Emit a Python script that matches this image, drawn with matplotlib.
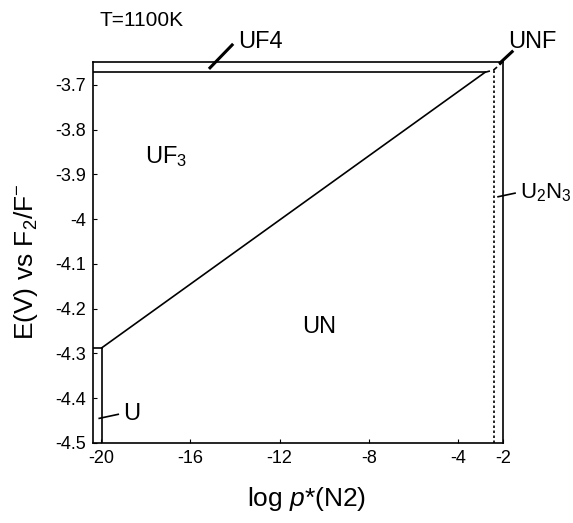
import matplotlib
matplotlib.use("Agg")
import matplotlib.pyplot as plt

plt.rcParams["font.family"] = ["Liberation Sans", "DejaVu Sans"]
plt.rcParams["mathtext.fontset"] = "custom"
plt.rcParams["mathtext.rm"] = "Liberation Sans"
plt.rcParams["mathtext.it"] = "Liberation Sans:italic"

# phase boundaries (log p*(N2), E in V)
X_MIN, X_MAX = -20.36, -2.0
Y_MIN, Y_MAX = -4.5, -3.649

u_un_x = -19.955          # U / UN boundary
u_uf3_y = -4.287          # U / UF3 boundary
uf3_uf4_y = -3.672        # UF3 / UF4 boundary
un_end = (-2.8, -3.672)   # end of UF3 / UN line
u2n3_x = -2.42            # UN / U2N3 boundary (dotted)
unf_pts_x = [-2.8, -2.42, -2.05]
unf_pts_y = [-3.672, -3.667, -3.651]

x_ticks = [-20, -16, -12, -8, -4, -2]
y_ticks = [-4.5, -4.4, -4.3, -4.2, -4.1, -4.0, -3.9, -3.8, -3.7]
y_tick_labels = ["-4.5", "-4.4", "-4.3", "-4.2", "-4.1", "-4", "-3.9", "-3.8", "-3.7"]

fig = plt.figure(figsize=(5.73, 5.23), dpi=100)
ax = fig.add_axes([0.1623, 0.1530, 0.7155, 0.7285])

lw = 1.2
ax.plot([X_MIN, u_un_x], [u_uf3_y, u_uf3_y], color="black", lw=lw)
ax.plot([u_un_x, u_un_x], [Y_MIN, u_uf3_y], color="black", lw=lw)
ax.plot([u_un_x, un_end[0]], [u_uf3_y, un_end[1]], color="black", lw=lw)
ax.plot([X_MIN, un_end[0]], [uf3_uf4_y, uf3_uf4_y], color="black", lw=lw)
ax.plot([u2n3_x, u2n3_x], [Y_MIN, unf_pts_y[1]], color="black", lw=lw,
        linestyle=(0, (1.5, 1.5)))
ax.plot(unf_pts_x, unf_pts_y, color="black", lw=lw, linestyle=(0, (3, 2)))

# labels with pointers
ax.plot([-15.12, -14.13], [-3.662, -3.611], color="black", lw=2.2, clip_on=False)
ax.text(-13.87, -3.604, "UF4", fontsize=17, va="center", ha="left")
ax.plot([-2.13, -1.59], [-3.651, -3.626], color="black", lw=2.2, clip_on=False)
ax.text(-1.77, -3.604, "UNF", fontsize=17, va="center", ha="left")
ax.plot([-2.22, -1.46], [-3.950, -3.942], color="black", lw=1.2, clip_on=False)
ax.text(-1.24, -3.941, r"U$_{2}$N$_{3}$", fontsize=16, va="center", ha="left")
ax.plot([-20.08, -19.23], [-4.445, -4.436], color="black", lw=1.2, clip_on=False)
ax.text(-19.01, -4.436, "U", fontsize=17, va="center", ha="left")
ax.text(-18.03, -3.861, r"UF$_{3}$", fontsize=17, va="center", ha="left")
ax.text(-10.24, -4.241, "UN", fontsize=17, va="center", ha="center")

fig.text(100 / 573, 1 - 20 / 523, "T=1100K", fontsize=15, va="center", ha="left")

ax.set_xlim(X_MIN, X_MAX)
ax.set_ylim(Y_MIN, Y_MAX)
ax.set_xticks(x_ticks)
ax.set_xticklabels([str(t) for t in x_ticks])
ax.set_yticks(y_ticks)
ax.set_yticklabels(y_tick_labels)
ax.tick_params(direction="in", length=3, width=0.8, labelsize=13, pad=5)
for s in ax.spines.values():
    s.set_linewidth(1.2)

ax.set_xlabel(r"log $p$*(N2)", fontsize=19)
ax.xaxis.set_label_coords(0.52, -0.11)
ax.set_ylabel(r"E(V) vs F$_2$/F$^{-}$", fontsize=19)
ax.yaxis.set_label_coords(-0.13, 0.475)

fig.savefig("out.png", dpi=100)
